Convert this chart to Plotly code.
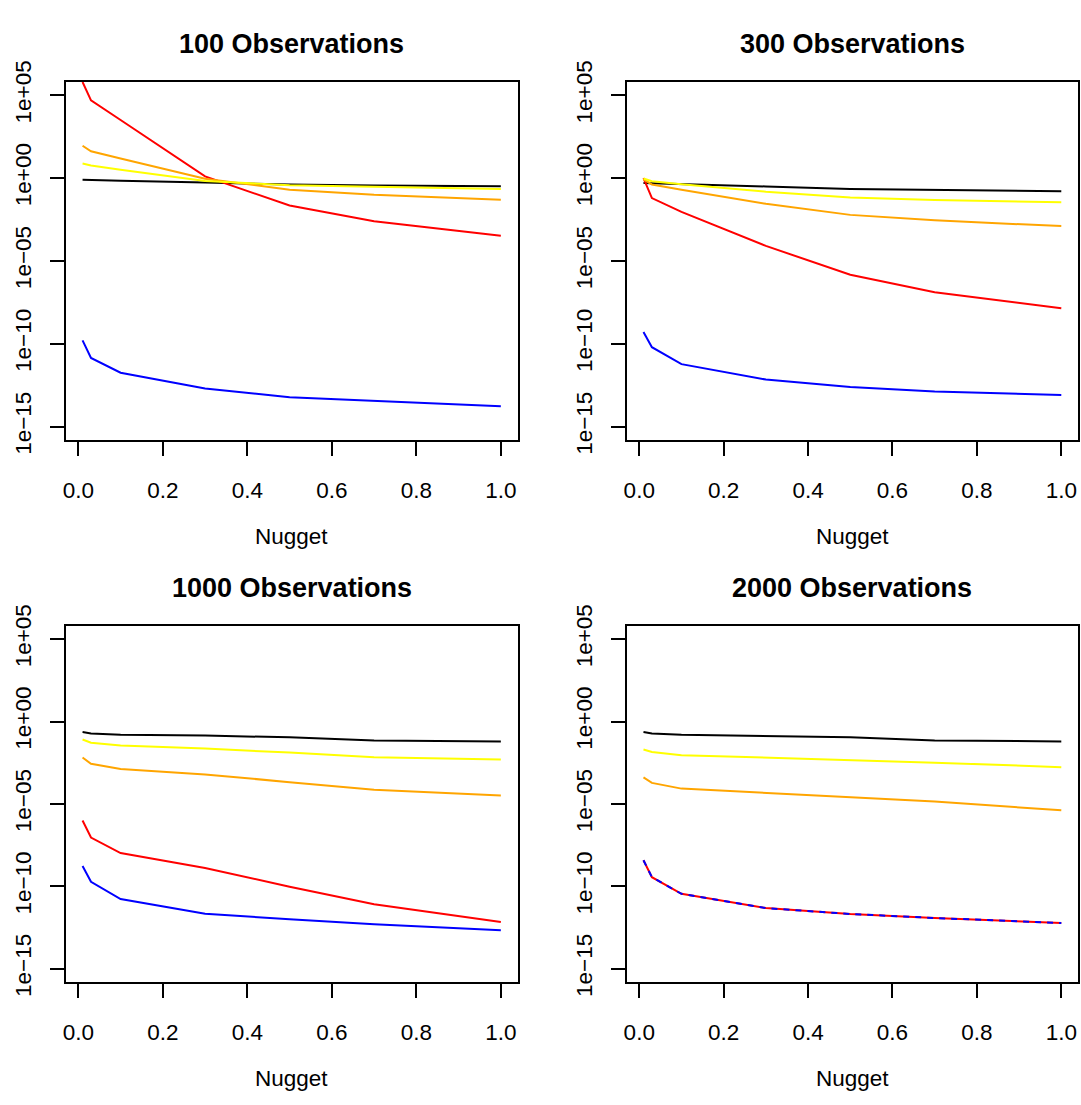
import plotly.graph_objects as go

# ---------------- data ----------------
nugget = [0.01, 0.03, 0.1, 0.3, 0.5, 0.7, 1.0]
x_ticks = [0.0, 0.2, 0.4, 0.6, 0.8, 1.0]
x_tick_labels = ["0.0", "0.2", "0.4", "0.6", "0.8", "1.0"]
y_ticks = [1e-15, 1e-10, 1e-05, 1e+00, 1e+05]
y_tick_labels = ["1e\u221215", "1e\u221210", "1e\u221205", "1e+00", "1e+05"]
panel_titles = ["100 Observations", "300 Observations", "1000 Observations", "2000 Observations"]
x_label = "Nugget"

# 100 observations
black_100 = [0.79, 0.78, 0.69, 0.54, 0.41, 0.35, 0.32]
yellow_100 = [7.6, 5.8, 3.2, 0.66, 0.37, 0.29, 0.22]
orange_100 = [89, 41, 15, 0.91, 0.20, 0.098, 0.050]
red_100 = [6.3e5, 4.9e4, 3.2e3, 1.26, 0.022, 2.5e-3, 3.3e-4]
blue_100 = [1.6e-10, 1.4e-11, 1.8e-12, 2.0e-13, 5.9e-14, 3.5e-14, 1.7e-14]

# 300 observations
black_300 = [0.51, 0.49, 0.43, 0.31, 0.22, 0.19, 0.16]
yellow_300 = [0.95, 0.65, 0.43, 0.15, 0.068, 0.048, 0.035]
orange_300 = [0.83, 0.41, 0.20, 0.028, 6.0e-3, 2.8e-3, 1.26e-3]
red_300 = [1.0, 0.062, 9.1e-3, 8.1e-5, 1.45e-6, 1.3e-7, 1.4e-8]
blue_300 = [5.2e-10, 6.2e-11, 5.9e-12, 6.9e-13, 2.5e-13, 1.3e-13, 8.1e-14]

# 1000 observations
black_1000 = [0.23, 0.19, 0.16, 0.14, 0.11, 0.071, 0.062]
yellow_1000 = [0.081, 0.052, 0.035, 0.023, 0.013, 6.9e-3, 5.0e-3]
orange_1000 = [6.6e-3, 2.7e-3, 1.3e-3, 6.2e-4, 2.1e-4, 7.2e-5, 3.2e-5]
red_1000 = [9.8e-7, 9.1e-8, 1.05e-8, 1.3e-9, 9.5e-11, 8.1e-12, 6.9e-13]
blue_1000 = [1.7e-9, 1.9e-10, 1.7e-11, 2.2e-12, 1.0e-12, 5.0e-13, 2.2e-13]

# 2000 observations
black_2000 = [0.23, 0.19, 0.16, 0.13, 0.11, 0.071, 0.062]
yellow_2000 = [0.020, 0.014, 9.1e-3, 6.6e-3, 4.8e-3, 3.2e-3, 1.7e-3]
orange_2000 = [4.1e-4, 1.9e-4, 8.5e-5, 4.8e-5, 2.7e-5, 1.4e-5, 4.1e-6]
red_2000 = [3.8e-9, 3.6e-10, 3.5e-11, 4.8e-12, 2.1e-12, 1.2e-12, 6.0e-13]
blue_2000 = [3.8e-9, 3.6e-10, 3.5e-11, 4.8e-12, 2.1e-12, 1.2e-12, 6.0e-13]

panels = [
    [black_100, red_100, orange_100, yellow_100, blue_100],
    [black_300, red_300, orange_300, yellow_300, blue_300],
    [black_1000, red_1000, orange_1000, yellow_1000, blue_1000],
    [black_2000, red_2000, orange_2000, yellow_2000, blue_2000],
]
series_colors = ["#000000", "#FF0000", "#FFA500", "#FFFF00", "#0000FF"]

# ---------------- layout geometry (pixels) ----------------
W, H = 1081, 1105
boxes = [
    (63, 516, 63, 433),
    (625.5, 1078, 63, 433),
    (63, 516, 625.3, 993.3),
    (625.5, 1078, 625.3, 993.3),
]
FONT = "Liberation Sans, Arial, Helvetica, sans-serif"
TICK_SIZE = 22.5
TITLE_SIZE = 27

fig = go.Figure()
layout = dict(
    width=W, height=H,
    margin=dict(l=0, r=0, t=0, b=0),
    paper_bgcolor="white", plot_bgcolor="white",
    showlegend=False,
    font=dict(family=FONT, color="black", size=TICK_SIZE),
    annotations=[],
)

for i, (series, box) in enumerate(zip(panels, boxes)):
    k = "" if i == 0 else str(i + 1)
    x0, x1, y0, y1 = box
    for vals, col in zip(series, series_colors):
        is_dashed = (i == 3 and col == "#0000FF")
        fig.add_trace(go.Scatter(
            x=nugget, y=vals, mode="lines",
            line=dict(color=col, width=2, dash="6px,6px" if is_dashed else "solid"),
            xaxis="x" + k, yaxis="y" + k, hoverinfo="skip",
        ))
    layout["xaxis" + k] = dict(
        domain=[x0 / W, x1 / W], anchor="y" + k,
        range=[-0.0296, 1.0396],
        tickvals=x_ticks, ticktext=x_tick_labels,
        ticks="outside", ticklen=14, tickwidth=1.5, tickcolor="black",
        showline=True, mirror=True, linecolor="black", linewidth=1.5,
        showgrid=False, zeroline=False,
        tickfont=dict(size=TICK_SIZE, family=FONT, color="black"),
        ticklabelstandoff=15,
    )
    layout["yaxis" + k] = dict(
        domain=[1 - y1 / H, 1 - y0 / H], anchor="x" + k,
        type="log", range=[-15.8, 5.8],
        tickvals=y_ticks, ticktext=y_tick_labels, tickangle=-90,
        ticks="outside", ticklen=14, tickwidth=1.5, tickcolor="black",
        showline=True, mirror=True, linecolor="black", linewidth=1.5,
        showgrid=False, zeroline=False,
        tickfont=dict(size=TICK_SIZE, family=FONT, color="black"),
        ticklabelstandoff=10,
    )
    cx = (x0 + x1) / 2 / W
    layout["annotations"].append(dict(
        text="<b>" + panel_titles[i] + "</b>", x=cx, y=1 - (y0 - 39) / H,
        xref="paper", yref="paper", xanchor="center", yanchor="middle",
        showarrow=False, font=dict(size=TITLE_SIZE, family=FONT, color="black"),
    ))
    layout["annotations"].append(dict(
        text=x_label, x=cx, y=1 - (y1 + 100) / H,
        xref="paper", yref="paper", xanchor="center", yanchor="middle",
        showarrow=False, font=dict(size=TICK_SIZE, family=FONT, color="black"),
    ))

fig.update_layout(**layout)
fig.write_html("out.html")
